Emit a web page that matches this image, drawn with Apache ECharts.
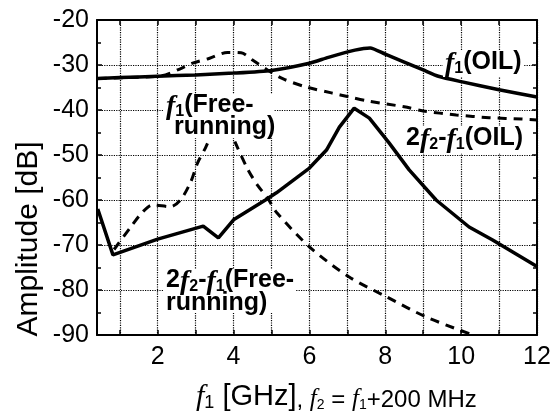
<!DOCTYPE html>
<html>
<head>
<meta charset="utf-8">
<script src="https://cdn.jsdelivr.net/npm/echarts@6/dist/echarts.min.js"></script>
<style>
  html, body { margin: 0; padding: 0; background: #fff; }
  #chart { width: 556px; height: 416px; }
</style>
</head>
<body>
<div id="chart"></div>
<script>
// f1 [GHz] / amplitude [dB]
const f1OilX = [0.42, 1, 2, 3, 4, 5, 6, 6.5, 7.2, 7.6, 8, 9, 9.4, 10, 11, 12];
const f1OilY = [-33, -32.8, -32.5, -32.2, -31.8, -31.2, -29.6, -28.3, -26.7, -26.2, -27.6, -31.1, -32.5, -33.7, -35.5, -37.1];

const f1FreeX = [0.42, 1.2, 2.1, 2.58, 2.92, 3.37, 3.84, 4.2, 4.5, 4.97, 5.31, 5.92, 6.58, 7.05, 7.55, 8.5, 9, 9.87, 10.74, 11.6, 12];
const f1FreeY = [-33, -32.8, -32.4, -30.9, -29.6, -28.5, -27.2, -27.3, -28.9, -31.5, -33.1, -34.9, -36.2, -37.1, -38, -39.3, -40.2, -41.1, -41.7, -42, -42.2];

const imdOilX = [0.42, 0.82, 2, 3.2, 3.6, 4, 4.84, 5.13, 6, 6.45, 6.79, 7.18, 7.58, 8.1, 8.63, 9.34, 10.21, 10.83, 12];
const imdOilY = [-62, -72.2, -68.7, -65.8, -68.4, -64.4, -60, -58.4, -52.9, -48.9, -43.8, -39.6, -41.8, -47.3, -53.3, -60, -66, -68.9, -74.8];

const imdFreeX = [0.85, 1.29, 1.6, 1.87, 2.34, 2.6, 2.87, 3.05, 3.26, 3.5, 3.7, 3.9, 4.05, 4.37, 4.63, 4.9, 5.13, 6, 7.03, 8.03, 9.08, 10.31];
const imdFreeY = [-71, -66, -62.7, -61.1, -61.5, -60, -56, -51.8, -48.4, -44, -42, -44, -47.3, -53.1, -56.7, -59.6, -62.7, -70.4, -77, -81.5, -86, -90];

const xTicks = [1, 2, 3, 4, 5, 6, 7, 8, 9, 10, 11, 12];
const xLabels = [2, 4, 6, 8, 10, 12];

const zip = (xs, ys) => xs.map((x, i) => [x, ys[i]]);

const chart = echarts.init(document.getElementById("chart"));

const tickFont = { fontFamily: "Liberation Sans", fontSize: 25, color: "#000" };
const dotted = { color: "#000", type: "dotted", width: 1.2 };
const frame = { show: true, lineStyle: { color: "#000", width: 2 } };

// rich styles: main glyphs hang from the top, subscripts sit on the bottom of a taller line
const labelRich = {
  n: { fontFamily: "Liberation Sans", fontWeight: "bold", fontSize: 25, color: "#000", lineHeight: 23, verticalAlign: "top" },
  i: { fontFamily: "Liberation Serif", fontStyle: "italic", fontWeight: "bold", fontSize: 28, color: "#000", lineHeight: 23, verticalAlign: "top" },
  s: { fontFamily: "Liberation Sans", fontWeight: "bold", fontSize: 16, color: "#000", lineHeight: 27, verticalAlign: "bottom" }
};
const titleRich = {
  i: { fontFamily: "Liberation Serif", fontStyle: "italic", fontSize: 30, color: "#000", lineHeight: 27, verticalAlign: "top" },
  s: { fontFamily: "Liberation Sans", fontSize: 18, color: "#000", lineHeight: 30, verticalAlign: "bottom" },
  n: { fontFamily: "Liberation Sans", fontSize: 29, color: "#000", lineHeight: 27, verticalAlign: "top" },
  ii: { fontFamily: "Liberation Serif", fontStyle: "italic", fontSize: 25, color: "#000", lineHeight: 27, verticalAlign: "bottom" },
  ss: { fontFamily: "Liberation Sans", fontSize: 14, color: "#000", lineHeight: 30, verticalAlign: "bottom" },
  nn: { fontFamily: "Liberation Sans", fontSize: 24, color: "#000", lineHeight: 27, verticalAlign: "bottom" }
};

const curveLabel = (left, top, text, bg) => ({
  type: "text", left, top, z: 100,
  style: { text, rich: labelRich, backgroundColor: bg ? "#fff" : "transparent", padding: [0, 2, 0, 2] }
});
// white patch behind a two-line label
const patch = (x, y, width, height) => ({
  type: "rect", z: 99, shape: { x, y, width, height }, style: { fill: "#fff" }
});

const option = {
  animation: false,
  backgroundColor: "#fff",
  grid: { left: 97, right: 19, top: 20, bottom: 81 },
  xAxis: [
    {
      type: "value", min: 0.4, max: 12,
      axisLine: frame,
      axisTick: { inside: true, length: 5, customValues: xTicks, lineStyle: { color: "#000", width: 1.5 } },
      axisLabel: { customValues: xLabels, margin: 10, ...tickFont },
      splitLine: { show: true, lineStyle: dotted }
    },
    {
      type: "value", min: 0.4, max: 12, position: "top",
      axisLine: frame,
      axisTick: { inside: true, length: 5, customValues: xTicks, lineStyle: { color: "#000", width: 1.5 } },
      axisLabel: { show: false },
      splitLine: { show: false }
    }
  ],
  yAxis: [
    {
      type: "value", min: -90, max: -20, interval: 10,
      axisLine: frame,
      axisTick: { inside: true, length: 5, lineStyle: { color: "#000", width: 1.5 } },
      minorTick: { show: true, splitNumber: 2, length: 4, lineStyle: { color: "#000", width: 1.5 } },
      axisLabel: { margin: 8, ...tickFont },
      splitLine: { show: true, lineStyle: dotted }
    },
    {
      type: "value", min: -90, max: -20, interval: 10, position: "right",
      axisLine: frame,
      axisTick: { inside: true, length: 5, lineStyle: { color: "#000", width: 1.5 } },
      minorTick: { show: true, splitNumber: 2, length: 4, lineStyle: { color: "#000", width: 1.5 } },
      axisLabel: { show: false },
      splitLine: { show: false }
    }
  ],
  series: [
    { name: "f1(OIL)", type: "line", showSymbol: false, smooth: 0.2, data: zip(f1OilX, f1OilY),
      lineStyle: { color: "#000", width: 3.5 } },
    { name: "f1(Free-running)", type: "line", showSymbol: false, smooth: 0.3, data: zip(f1FreeX, f1FreeY),
      lineStyle: { color: "#000", width: 3, type: [9, 7] } },
    { name: "2f2-f1(OIL)", type: "line", showSymbol: false, smooth: false, data: zip(imdOilX, imdOilY),
      lineStyle: { color: "#000", width: 3.5 } },
    { name: "2f2-f1(Free-running)", type: "line", showSymbol: false, smooth: 0.3, data: zip(imdFreeX, imdFreeY),
      lineStyle: { color: "#000", width: 3, type: [9, 7] } }
  ],
  graphic: [
    patch(164, 94, 110, 44),
    patch(164, 269, 132, 44),
    curveLabel(443, 50, "{i|f}{s|1}{n|(OIL)}", true),
    curveLabel(404, 126, "{n|2}{i|f}{s|2}{n|-}{i|f}{s|1}{n|(OIL)}", true),
    curveLabel(164, 93, "{i|f}{s|1}{n|(Free-}", false),
    curveLabel(172, 115, "{n|running)}", false),
    curveLabel(164, 268, "{n|2}{i|f}{s|2}{n|-}{i|f}{s|1}{n|(Free-}", false),
    curveLabel(164, 291, "{n|running)}", false),
    {
      type: "text", left: 196, top: 382, z: 100,
      style: { text: "{i|f}{s|1}{n| [GHz]}{nn|, }{ii|f}{ss|2}{nn| = }{ii|f}{ss|1}{nn|+200 MHz}", rich: titleRich }
    },
    {
      type: "text", x: 29, y: 239, rotation: Math.PI / 2, z: 100,
      style: { text: "Amplitude [dB]", fontFamily: "Liberation Sans", fontSize: 30, fill: "#000",
               align: "center", verticalAlign: "middle" }
    }
  ]
};

chart.setOption(option);
</script>
</body>
</html>
